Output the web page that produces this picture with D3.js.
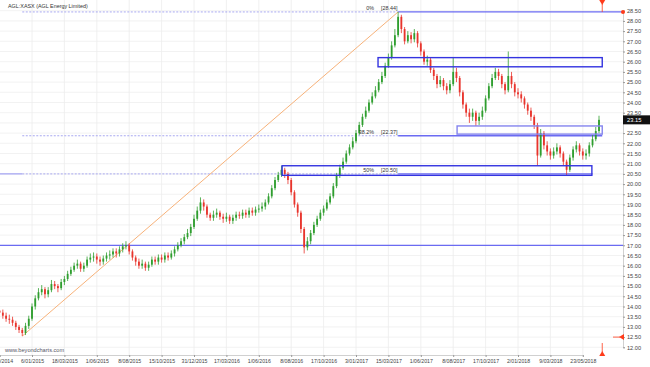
<!DOCTYPE html>
<html>
<head>
<meta charset="utf-8">
<script src="https://cdn.jsdelivr.net/npm/d3@7"></script>
<style>
  body { margin: 0; background: #fff; }
  svg { display: block; font-family: Arial, "Liberation Sans", sans-serif; }
</style>
</head>
<body>
<svg id="chart"></svg>
<script>
// weekly candles, open = previous close
const firstOpen = 13.8;
const closes = [
  13.7, 13.55, 13.4, 13.35, 13.2, 13.0, 12.85, 12.7, 13.05, 13.4,
  14.0, 14.4, 14.7, 14.85, 14.6, 14.8, 15.1, 15.0, 14.9, 15.2,
  15.35, 15.6, 15.8, 16.0, 16.1, 15.85, 16.0, 16.3, 16.4, 16.45,
  16.3, 16.2, 16.35, 16.5, 16.55, 16.7, 16.6, 16.8, 16.95, 17.0,
  16.7, 16.4, 16.2, 16.0, 16.1, 15.9, 16.05, 16.3, 16.2, 16.4,
  16.3, 16.5, 16.4, 16.6, 16.8, 17.0, 17.2, 17.4, 17.6, 17.9,
  18.3, 18.7, 19.1, 18.9, 18.5, 18.35, 18.5, 18.6, 18.4, 18.3,
  18.4, 18.2, 18.35, 18.5, 18.45, 18.6, 18.5, 18.7, 18.6, 18.75,
  18.8, 18.9, 19.1, 19.4, 19.8, 20.2, 20.45, 20.7, 20.5, 20.2,
  19.6, 19.0, 18.6, 17.8, 16.9, 17.2, 17.6, 18.0, 18.3, 18.6,
  18.8, 19.1, 19.4, 19.9, 20.4, 20.8, 21.1, 21.5, 21.8, 22.1,
  22.5, 22.9, 23.3, 23.6, 24.0, 24.3, 24.6, 25.0, 25.3, 25.8,
  26.2, 26.8, 27.3, 28.2, 27.6, 27.0, 27.3, 27.1, 27.4, 26.9,
  26.5, 26.0, 26.1, 25.6, 25.3, 24.9, 25.1, 24.8, 24.6, 24.9,
  25.5, 25.2, 24.5, 23.9, 23.5, 23.3, 23.5, 23.1, 23.3, 23.6,
  24.2, 24.8, 25.2, 25.5, 25.3, 24.9, 24.6, 25.3, 24.9, 24.5,
  24.4, 24.2, 23.9, 23.6, 23.3, 22.9, 21.4, 22.5, 21.9, 21.6,
  21.4, 21.6, 21.8, 21.5, 21.1, 20.7, 21.3, 21.7, 21.9, 21.6,
  21.4, 21.5, 21.9, 22.2, 22.6, 23.15
];
const highs = [
  13.95, 13.85, 13.7, 13.6, 13.5, 13.3, 13.1, 12.95, 13.2, 13.55,
  14.15, 14.55, 14.9, 15.05, 14.95, 14.95, 15.3, 15.25, 15.1, 15.35,
  15.5, 15.75, 15.95, 16.15, 16.3, 16.2, 16.15, 16.45, 16.6, 16.65,
  16.6, 16.45, 16.5, 16.65, 16.75, 16.85, 16.85, 16.95, 17.1, 17.2,
  17.1, 16.8, 16.5, 16.35, 16.3, 16.2, 16.2, 16.45, 16.45, 16.55,
  16.55, 16.65, 16.65, 16.75, 16.95, 17.15, 17.35, 17.55, 17.8, 18.05,
  18.5, 18.9, 19.35, 19.25, 19.0, 18.6, 18.7, 18.8, 18.7, 18.55,
  18.6, 18.5, 18.5, 18.65, 18.65, 18.75, 18.75, 18.85, 18.85, 18.9,
  19.0, 19.1, 19.25, 19.55, 19.95, 20.35, 20.6, 20.9, 20.8, 20.6,
  20.3, 19.7, 19.1, 18.7, 17.9, 17.4, 17.75, 18.15, 18.45, 18.75,
  18.95, 19.25, 19.55, 20.05, 20.55, 20.95, 21.3, 21.65, 21.95, 22.3,
  22.65, 23.05, 23.45, 23.8, 24.15, 24.5, 24.8, 25.15, 25.5, 25.95,
  26.4, 27.0, 27.6, 28.44, 28.3, 27.7, 27.5, 27.45, 27.6, 27.5,
  27.0, 26.6, 26.3, 26.2, 25.7, 25.4, 25.3, 25.2, 24.95, 25.1,
  26.2, 25.7, 25.3, 24.6, 24.0, 23.7, 23.7, 23.6, 23.5, 23.8,
  24.35, 24.95, 25.4, 25.7, 25.65, 25.4, 25.0, 26.5, 25.5, 25.0,
  24.7, 24.55, 24.3, 24.0, 23.75, 23.4, 23.0, 22.7, 22.6, 22.1,
  21.75, 21.8, 22.0, 21.9, 21.6, 21.2, 21.45, 21.85, 22.1, 22.0,
  21.75, 21.7, 22.05, 22.4, 22.8, 23.35
];
const lows = [
  13.5, 13.4, 13.25, 13.15, 13.05, 12.85, 12.7, 12.55, 12.6, 12.9,
  13.3, 13.85, 14.3, 14.55, 14.4, 14.45, 14.7, 14.85, 14.7, 14.8,
  15.05, 15.25, 15.5, 15.7, 15.85, 15.7, 15.7, 15.9, 16.15, 16.2,
  16.1, 16.0, 16.05, 16.2, 16.3, 16.4, 16.4, 16.45, 16.65, 16.8,
  16.55, 16.25, 16.0, 15.85, 15.85, 15.75, 15.75, 15.95, 16.05, 16.05,
  16.15, 16.15, 16.25, 16.3, 16.45, 16.7, 16.9, 17.05, 17.3, 17.45,
  17.8, 18.2, 18.55, 18.7, 18.35, 18.2, 18.2, 18.35, 18.25, 18.1,
  18.15, 18.05, 18.05, 18.2, 18.3, 18.3, 18.35, 18.35, 18.45, 18.45,
  18.6, 18.65, 18.75, 19.0, 19.3, 19.7, 20.1, 20.35, 20.3, 20.0,
  19.45, 18.85, 18.4, 17.6, 16.6, 16.75, 17.05, 17.5, 17.9, 18.2,
  18.45, 18.7, 19.0, 19.3, 19.8, 20.3, 20.7, 21.0, 21.4, 21.7,
  22.0, 22.4, 22.8, 23.2, 23.5, 23.9, 24.2, 24.5, 24.9, 25.2,
  25.7, 26.1, 26.7, 27.2, 27.4, 26.85, 26.9, 26.9, 26.95, 26.7,
  26.3, 25.85, 25.8, 25.45, 25.1, 24.7, 24.75, 24.6, 24.4, 24.45,
  24.8, 25.0, 24.3, 23.7, 23.3, 23.0, 23.1, 22.85, 22.9, 23.15,
  23.5, 24.1, 24.7, 25.1, 25.1, 24.7, 24.4, 24.5, 24.7, 24.3,
  24.2, 24.0, 23.7, 23.4, 23.1, 22.7, 20.9, 21.3, 21.7, 21.4,
  21.2, 21.25, 21.45, 21.3, 20.9, 20.4, 20.6, 21.15, 21.55, 21.4,
  21.2, 21.2, 21.35, 21.8, 22.1, 22.5
];

const tickLabels = [
  '24/10/2014', '6/01/2015', '18/03/2015', '1/06/2015', '8/08/2015', '15/10/2015',
  '31/12/2015', '17/03/2016', '1/06/2016', '8/08/2016', '17/10/2016', '3/01/2017',
  '15/03/2017', '1/06/2017', '8/08/2017', '17/10/2017', '2/01/2018', '9/03/2018', '23/05/2018'
];
const tickWeeks = d3.range(0, 181, 10);
const priceTicks = d3.range(12, 28.501, 0.5);

// fibonacci tool: low point -> high point
const fibStart = { week: 7, price: 12.55 };
const fibEnd = { week: 123, price: 28.44 };
const fibLevels = [28.44, 22.37, 20.50];
const fibNames = ['0%', '38.2%', '50%'];
const fibExtendTo = [192.5, 186, 183];

const hLines = [17.0];
const boxes = [
  { from: 116.8, to: 186, top: 26.2, bottom: 25.75, light: false },
  { from: 141.2, to: 186, top: 22.85, bottom: 22.45, light: true },
  { from: 87.2, to: 182.8, top: 20.9, bottom: 20.43, light: false }
];
const lastPrice = 23.15;

const width = 650, height = 367;
const plotRight = 623, plotBottom = 355;

const svg = d3.select('#chart').attr('width', width).attr('height', height);

const x = d3.scaleLinear().domain([0, 180]).range([-0.4, 582.8]);
const y = d3.scaleLinear().domain([12, 28.5]).range([347.3, 10.7]);

// grid
svg.append('g').selectAll('line').data(priceTicks).enter().append('line')
  .attr('x1', 0).attr('x2', plotRight)
  .attr('y1', d => y(d)).attr('y2', d => y(d))
  .attr('stroke', '#efefef').attr('stroke-width', 0.8);
svg.append('g').selectAll('line').data(tickWeeks).enter().append('line')
  .attr('x1', d => x(d)).attr('x2', d => x(d))
  .attr('y1', 0).attr('y2', plotBottom)
  .attr('stroke', '#ececec').attr('stroke-width', 0.8);

// axes (23.00 sits under the last-price tag, so its label is left out)
const priceFmt = d3.format('.2f');
const yAxis = svg.append('g')
  .attr('transform', `translate(${plotRight},0)`)
  .call(d3.axisRight(y).tickValues(priceTicks)
    .tickFormat(d => Math.abs(d - lastPrice) < 0.3 ? '' : priceFmt(d))
    .tickSize(2).tickPadding(2));
const xAxis = svg.append('g')
  .attr('transform', `translate(0,${plotBottom})`)
  .call(d3.axisBottom(x).tickValues(tickWeeks).tickFormat((d, i) => tickLabels[i]).tickSize(2).tickPadding(2));
[yAxis, xAxis].forEach(g => {
  g.select('.domain').attr('stroke', '#d0d0d0');
  g.selectAll('.tick line').attr('stroke', '#999');
  g.selectAll('.tick text').attr('fill', '#444').style('font-size', '5.6px');
});
xAxis.selectAll('.tick text').style('font-size', '5.2px');

// fib dashed levels and orange diagonal
svg.append('g').selectAll('line').data(fibLevels).enter().append('line')
  .attr('x1', x(fibStart.week)).attr('x2', x(fibEnd.week))
  .attr('y1', d => y(d)).attr('y2', d => y(d))
  .attr('stroke', '#a8a8f0').attr('stroke-width', 1).attr('stroke-dasharray', '2,1.5');
svg.append('g').selectAll('line').data(fibLevels).enter().append('line')
  .attr('x1', x(fibEnd.week)).attr('x2', (d, i) => x(fibExtendTo[i]))
  .attr('y1', d => y(d)).attr('y2', d => y(d))
  .attr('stroke', '#6b6bf2').attr('stroke-width', 1.3);
svg.append('line')
  .attr('x1', x(fibStart.week)).attr('y1', y(fibStart.price))
  .attr('x2', x(fibEnd.week)).attr('y2', y(fibEnd.price))
  .attr('stroke', '#f7b27a').attr('stroke-width', 1);

// plain horizontal lines
svg.append('g').selectAll('line').data(hLines).enter().append('line')
  .attr('x1', 0).attr('x2', plotRight)
  .attr('y1', d => y(d)).attr('y2', d => y(d))
  .attr('stroke', '#6b6bf2').attr('stroke-width', 1.2);
svg.append('line')
  .attr('x1', 0).attr('x2', x(fibStart.week))
  .attr('y1', y(20.50)).attr('y2', y(20.50))
  .attr('stroke', '#8f8ff2').attr('stroke-width', 1);

// candles
const candles = closes.map((c, i) => ({
  i, open: i === 0 ? firstOpen : closes[i - 1], close: c, high: highs[i], low: lows[i]
}));
const cg = svg.append('g');
cg.selectAll('line').data(candles).enter().append('line')
  .attr('x1', d => x(d.i)).attr('x2', d => x(d.i))
  .attr('y1', d => y(d.high)).attr('y2', d => y(d.low))
  .attr('stroke', d => d.close >= d.open ? '#2f9e2f' : '#e8342c')
  .attr('stroke-width', 0.8);
cg.selectAll('rect').data(candles).enter().append('rect')
  .attr('x', d => x(d.i) - 0.9)
  .attr('width', 1.8)
  .attr('y', d => y(Math.max(d.open, d.close)))
  .attr('height', d => Math.max(0.8, Math.abs(y(d.open) - y(d.close))))
  .attr('fill', d => d.close >= d.open ? '#2f9e2f' : '#e8342c');

// boxes
svg.append('g').selectAll('rect').data(boxes).enter().append('rect')
  .attr('x', d => x(d.from)).attr('width', d => x(d.to) - x(d.from))
  .attr('y', d => y(d.top)).attr('height', d => y(d.bottom) - y(d.top))
  .attr('fill', 'none')
  .attr('stroke', d => d.light ? '#8484ee' : '#3434e0')
  .attr('stroke-width', 1.4);

// fib labels
const fl = svg.append('g').style('font-size', '5.4px').attr('fill', '#333');
fl.selectAll('.pct').data(fibLevels).enter().append('text')
  .attr('x', x(fibEnd.week) - 24).attr('y', d => y(d) - 2)
  .attr('text-anchor', 'end').text((d, i) => fibNames[i]);
fl.selectAll('.val').data(fibLevels).enter().append('text')
  .attr('x', x(fibEnd.week) - 17).attr('y', d => y(d) - 2)
  .text(d => `[${d.toFixed(2)}]`);

// red handles
const red = '#ff3b1a';
const mx = x(186);
svg.append('path').attr('d', `M${mx - 3},0 L${mx + 3},0 L${mx},5 Z`).attr('fill', red);
svg.append('line').attr('x1', mx).attr('x2', mx).attr('y1', 4).attr('y2', y(28.44)).attr('stroke', red).attr('stroke-width', 0.8);
svg.append('circle').attr('cx', plotRight).attr('cy', y(28.44)).attr('r', 2).attr('fill', red);
svg.append('path').attr('d', `M${mx - 3},${plotBottom + 1} L${mx + 3},${plotBottom + 1} L${mx},${plotBottom - 4} Z`).attr('fill', red);
svg.append('line').attr('x1', mx).attr('x2', mx).attr('y1', plotBottom - 12).attr('y2', plotBottom - 3).attr('stroke', red).attr('stroke-width', 0.8);
svg.append('path').attr('d', `M${plotRight + 1},${y(12.5) - 3} L${plotRight + 1},${y(12.5) + 3} L${plotRight - 4},${y(12.5)} Z`).attr('fill', red);
svg.append('line').attr('x1', plotRight - 10).attr('x2', plotRight - 3).attr('y1', y(12.5)).attr('y2', y(12.5)).attr('stroke', red).attr('stroke-width', 0.8);

// last price tag
svg.append('rect').attr('x', plotRight).attr('y', y(lastPrice) - 4.5).attr('width', 27).attr('height', 9).attr('fill', '#111');
svg.append('text').attr('x', plotRight + 4).attr('y', y(lastPrice) + 2)
  .attr('fill', '#fff').style('font-size', '5.8px').text(lastPrice.toFixed(2));

// title and watermark
svg.append('text').attr('x', 8).attr('y', 8).attr('fill', '#333').style('font-size', '5.4px')
  .text('AGL:XASX (AGL Energy Limited)');
svg.append('text').attr('x', 5).attr('y', 352).attr('fill', '#556').style('font-size', '5.6px')
  .text('www.beyondcharts.com');
</script>
</body>
</html>
